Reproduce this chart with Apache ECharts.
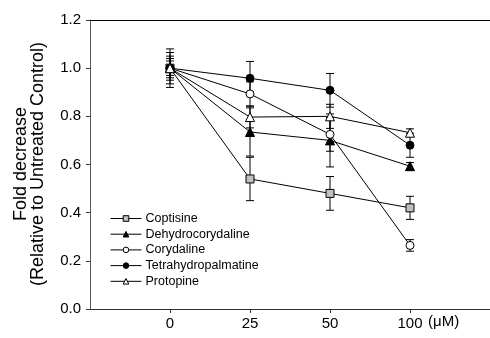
<!DOCTYPE html>
<html>
<head>
<meta charset="utf-8">
<script src="https://cdn.jsdelivr.net/npm/echarts@6/dist/echarts.min.js"></script>
<style>html,body{margin:0;padding:0;background:#fff;}#c{width:490px;height:338px;}</style>
</head>
<body>
<div id="c"></div>
<script>
const categories = ['0', '25', '50', '100'];
const yTicks = [0, 0.2, 0.4, 0.6, 0.8, 1.0, 1.2];
const names = ['Coptisine', 'Dehydrocorydaline', 'Corydaline', 'Tetrahydropalmatine', 'Protopine'];
const coptisine = [1.0, 0.54, 0.48, 0.42];
const coptisineErr = [0.08, 0.09, 0.07, 0.048];
const dehydrocorydaline = [1.0, 0.735, 0.70, 0.593];
const dehydrocorydalineErr = [0.065, 0.10, 0.11, 0.015];
const corydaline = [1.0, 0.893, 0.725, 0.264];
const corydalineErr = [0.05, 0.05, 0.07, 0.024];
const tetrahydropalmatine = [1.0, 0.958, 0.908, 0.68];
const tetrahydropalmatineErr = [0.04, 0.07, 0.07, 0.05];
const protopine = [1.0, 0.797, 0.80, 0.732];
const protopineErr = [0.03, 0.045, 0.05, 0.016];

const values = [coptisine, dehydrocorydaline, corydaline, tetrahydropalmatine, protopine];
const errors = [coptisineErr, dehydrocorydalineErr, corydalineErr, tetrahydropalmatineErr, protopineErr];
const symbols = ['rect', 'triangle', 'circle', 'circle', 'triangle'];
const fills = ['#c0c0c0', '#000', '#fff', '#000', '#fff'];
const sizes = [8, 9, 8, 8, 9];

const FONT = 'Arial, "Liberation Sans", sans-serif';
const chart = echarts.init(document.getElementById('c'), null, {renderer: 'canvas'});

const series = [];
names.forEach((n, k) => {
  series.push({
    type: 'custom',
    name: n + ' err',
    z: 2,
    silent: true,
    renderItem: function (params, api) {
      const x = api.value(0), y = api.value(1), e = api.value(2);
      const top = api.coord([x, y + e]);
      const bot = api.coord([x, y - e]);
      const hw = 4;
      const st = {stroke: '#000', lineWidth: 1};
      return {type: 'group', children: [
        {type: 'line', shape: {x1: top[0], y1: top[1], x2: bot[0], y2: bot[1]}, style: st},
        {type: 'line', shape: {x1: top[0] - hw, y1: top[1], x2: top[0] + hw, y2: top[1]}, style: st},
        {type: 'line', shape: {x1: bot[0] - hw, y1: bot[1], x2: bot[0] + hw, y2: bot[1]}, style: st}
      ]};
    },
    data: values[k].map((v, i) => [i, v, errors[k][i]])
  });
});
names.forEach((n, k) => {
  series.push({
    type: 'line',
    name: n,
    z: 3 + k,
    symbol: symbols[k],
    symbolSize: sizes[k],
    showAllSymbol: true,
    lineStyle: {color: '#000', width: 1},
    itemStyle: {color: fills[k], borderColor: '#000', borderWidth: 1},
    data: values[k].map((v, i) => [i, v])
  });
});

chart.setOption({
  animation: false,
  backgroundColor: '#fff',
  grid: {left: 90, right: -2, top: 20, bottom: 29, containLabel: false},
  legend: {
    data: names,
    orient: 'vertical',
    left: 110,
    top: 212,
    padding: 0,
    itemWidth: 31,
    itemHeight: 7,
    itemGap: 2.7,
    lineStyle: {width: 1, color: '#000'},
    itemStyle: {borderWidth: 1, borderColor: '#000'},
    textStyle: {fontFamily: FONT, fontSize: 12.5, color: '#000', lineHeight: 12, padding: [0, 0, 0, -1]},
    selectedMode: false
  },
  xAxis: [{
    type: 'value',
    min: -1,
    max: 4,
    position: 'bottom',
    axisLine: {show: true, onZero: false, lineStyle: {color: '#333', width: 1}},
    axisTick: {show: true, inside: false, length: 4, customValues: [0, 1, 2, 3], lineStyle: {color: '#333'}},
    axisLabel: {customValues: [0, 1, 2, 3], formatter: v => categories[v], fontFamily: FONT, fontSize: 15, color: '#000', margin: 7},
    splitLine: {show: false}
  }, {
    type: 'value',
    min: -1,
    max: 4,
    position: 'top',
    axisLine: {show: true, onZero: false, lineStyle: {color: '#000', width: 1}},
    axisTick: {show: false},
    axisLabel: {show: false},
    splitLine: {show: false}
  }],
  yAxis: {
    type: 'value',
    min: 0,
    max: 1.2,
    interval: 0.2,
    axisLine: {show: true, onZero: false, lineStyle: {color: '#555', width: 1}},
    axisTick: {show: true, inside: false, length: 4, lineStyle: {color: '#333'}},
    axisLabel: {formatter: v => v.toFixed(1), fontFamily: FONT, fontSize: 15, color: '#000', margin: 9},
    splitLine: {show: false}
  },
  graphic: [
    {type: 'text', x: 30, y: 164, rotation: Math.PI / 2,
     style: {text: 'Fold decrease\n(Relative to Untreated Control)', align: 'center', verticalAlign: 'middle',
             font: '18px ' + FONT, lineHeight: 17, fill: '#000'}},
    {type: 'text', x: 428, y: 322,
     style: {text: '(\u03bcM)', align: 'left', verticalAlign: 'middle', font: '15px ' + FONT, fill: '#000'}}
  ],
  series: series
});
</script>
</body>
</html>
